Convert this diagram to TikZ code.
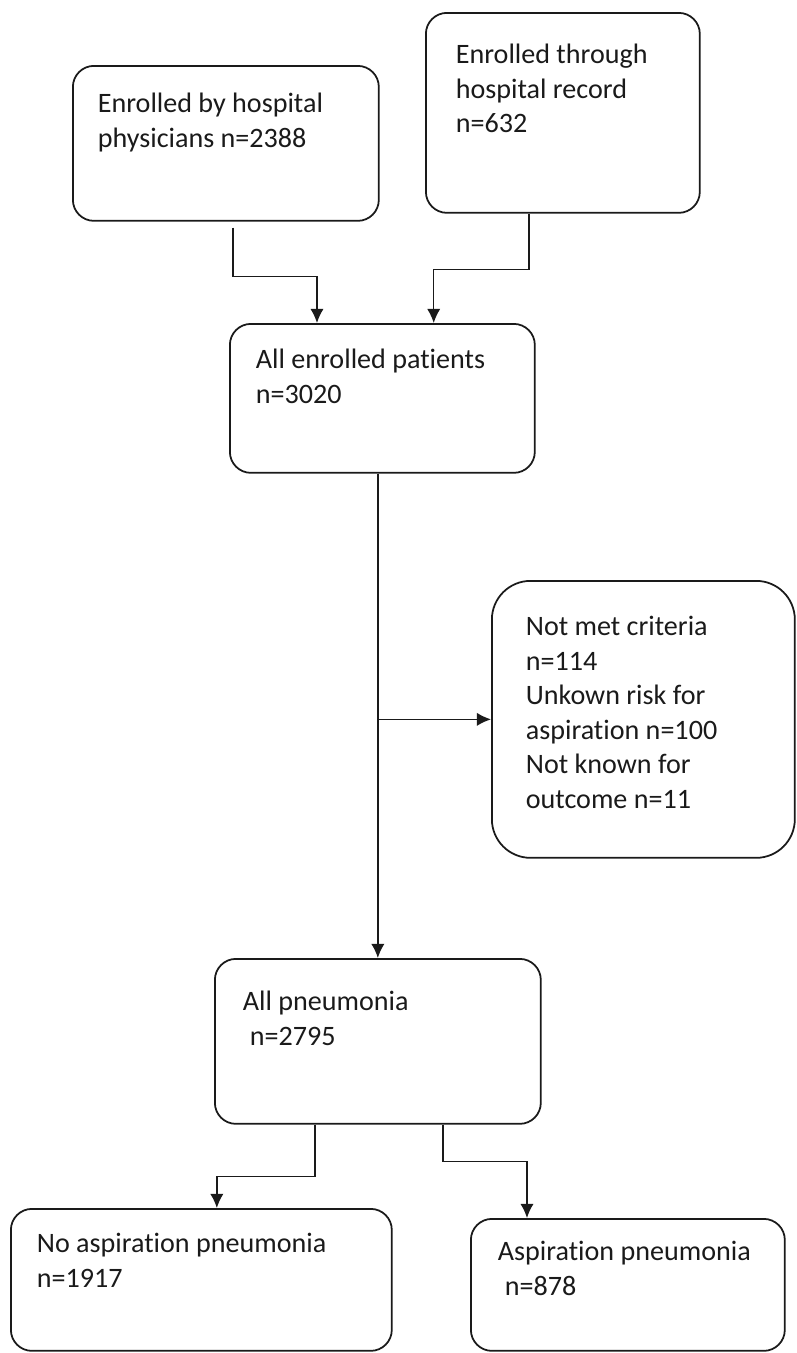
\documentclass[tikz,border=0pt]{standalone}
\usepackage{fontspec}
\setmainfont{Carlito}[Ligatures=NoCommon]
\usepackage{tikz}
\usetikzlibrary{arrows.meta,calc,positioning}
\definecolor{Ink}{HTML}{1A1A1A}
\newcommand{\flowtext}[3]{%
  \parbox[t][#2][t]{#1}{\strut #3}%
}
\tikzset{
  stagebox/.style={
    draw=Ink,
    line width=1pt,
    rounded corners=12pt,
    anchor=north west,
    align=left,
    text=Ink,
    font=\fontsize{16}{19.6}\selectfont
  },
  flow/.style={
    draw=Ink,
    line width=0.8pt,
    -{Latex[length=8pt,width=7.5pt]}
  }
}

\begin{document}
\begin{tikzpicture}[x=0.02cm,y=-0.02cm]
        \useasboundingbox (0,0) rectangle (796,1353);
        \node[stagebox, inner xsep=0.50cm, inner ysep=0.46cm] (physicians) at (72,65)
          {\flowtext{5.12cm}{2.18cm}{Enrolled by hospital\\physicians n=2388}};
        \node[stagebox, inner xsep=0.60cm, inner ysep=0.54cm] (records) at (425,12)
          {\flowtext{4.28cm}{2.92cm}{Enrolled through\\hospital record\\n=632}};
        \node[stagebox, inner xsep=0.52cm, inner ysep=0.42cm] (enrolled) at (229,323)
          {\flowtext{5.06cm}{2.14cm}{All enrolled patients\\n=3020}};
        \node[stagebox, rounded corners=22pt, inner xsep=0.68cm, inner ysep=0.62cm] (excluded) at (491,580)
          {\flowtext{4.70cm}{4.30cm}{Not met criteria\\n=114\\Unkown risk for\\aspiration n=100\\Not known for\\outcome n=11}};
        \node[stagebox, inner xsep=0.56cm, inner ysep=0.56cm] (pneumonia) at (214,958)
          {\flowtext{5.40cm}{2.18cm}{All pneumonia\\\hspace*{0.25em}n=2795}};
        \node[stagebox, inner xsep=0.52cm, inner ysep=0.40cm] (noasp) at (10,1208)
          {\flowtext{6.58cm}{2.04cm}{No aspiration pneumonia\\n=1917}};
        \node[stagebox, inner xsep=0.54cm, inner ysep=0.36cm] (asp) at (470,1218)
          {\flowtext{5.20cm}{1.92cm}{Aspiration pneumonia\\\hspace*{0.25em}n=878}};

        \draw[flow] ([xshift=0.14cm,yshift=-0.12cm]physicians.south) -- ++(0,49) -| ([xshift=1.76cm]enrolled.north west);
        \draw[flow] ([xshift=-0.68cm]records.south) -- ++(0,56) -| ([xshift=-2.04cm]enrolled.north east);
        \draw[flow] (pneumonia.north |- enrolled.south) -- (pneumonia.north);
        \draw[flow] (excluded.west -| pneumonia.north) -- (excluded.west);
        \draw[flow] ([xshift=-1.26cm]pneumonia.south) -- ++(0,52) -| ([xshift=0.31cm]noasp.north);
        \draw[flow] ([xshift=1.30cm]pneumonia.south) -- ++(0,37) -| ([xshift=1.14cm]asp.north west);
      \end{tikzpicture}
\end{document}
